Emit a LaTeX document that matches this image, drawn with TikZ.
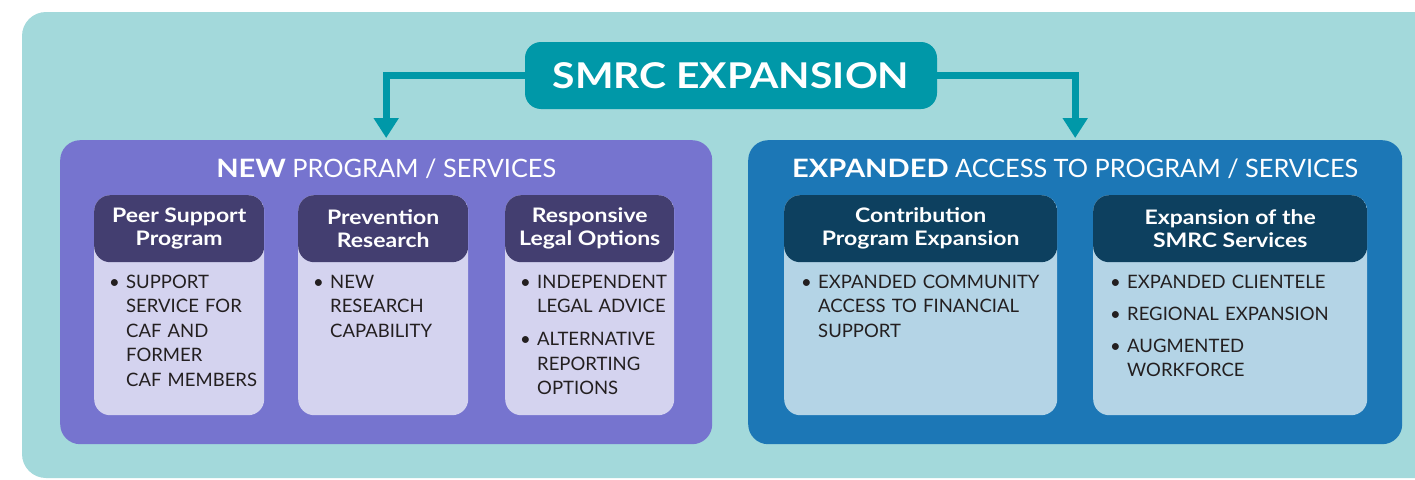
\documentclass[tikz,border=0pt]{standalone}
\usepackage{fontspec}
\setmainfont{Lato}[BoldFeatures={FakeStretch=1.15}]
\usetikzlibrary{arrows.meta,calc}

\definecolor{bgteal}{HTML}{A3D9DB}
\definecolor{smrcteal}{HTML}{0098A8}
\definecolor{newpurple}{HTML}{7674CF}
\definecolor{newhead}{HTML}{433E70}
\definecolor{newbody}{HTML}{D4D3EF}
\definecolor{expblue}{HTML}{1C77B6}
\definecolor{exphead}{HTML}{0D405F}
\definecolor{expbody}{HTML}{B4D4E6}
\definecolor{ink}{HTML}{231F20}

% one bullet with its lines stacked beside it
\newcommand{\bitem}[1]{\noindent\makebox[17pt][l]{\textbullet}\parbox[t]{\dimexpr\linewidth-17pt\relax}{\strut#1\strut}\par}
\newcommand{\gap}{\vspace{7.5pt}}

\tikzset{
  panel/.style={fill=#1, rounded corners=20pt, minimum height=304pt, inner sep=0pt},
  card/.style 2 args={fill=#2, rounded corners=16pt, minimum height=220pt, inner sep=0pt,
    path picture={\fill[#1] (path picture bounding box.north west) rectangle ([yshift=-67pt]path picture bounding box.north east);}},
  cardhead/.style={text=white, font=\bfseries\fontsize{20}{23.5}\selectfont, align=center},
  paneltitle/.style={text=white, font=\fontsize{25.3}{30}\selectfont},
  items/.style={text=ink, text width=#1, align=left, inner sep=0pt, anchor=north west,
    font=\fontsize{18.5}{24.5}\selectfont},
  flow/.style={smrcteal, line width=7pt, -{Triangle[width=24pt,length=20pt]}, shorten >=2pt},
}

\begin{document}
\begin{tikzpicture}[x=1pt,y=-1pt]
  \useasboundingbox (0,0) rectangle (1415,479);
  \fill[bgteal, rounded corners=24pt] (22,12) rectangle (1460,478);

  % top box
  \node[fill=smrcteal, rounded corners=16pt, minimum width=412pt, minimum height=67pt,
    text=white, font=\bfseries\fontsize{35.5}{40}\selectfont] (smrc) at (731,75.5) {SMRC EXPANSION};

  % the two panels
  \node[panel=newpurple, minimum width=652pt, anchor=north west] (newpanel) at (60,140) {};
  \node[panel=expblue, minimum width=654pt, anchor=north west] (exppanel) at (748,140) {};
  \node[paneltitle] (newtitle) at ([yshift=-29pt]newpanel.north) {\textbf{NEW} PROGRAM / SERVICES};
  \node[paneltitle] (exptitle) at ([yshift=-29pt]exppanel.north) {\textbf{EXPANDED} ACCESS TO PROGRAM / SERVICES};

  \draw[flow] (smrc.west) -| (newpanel.north);
  \draw[flow] (smrc.east) -| (exppanel.north);

  % new program cards
  \node[card={newhead}{newbody}, minimum width=170pt, anchor=north west] (peer) at (94,195) {};
  \node[card={newhead}{newbody}, minimum width=170pt, anchor=north west] (prev) at (298,195) {};
  \node[card={newhead}{newbody}, minimum width=169pt, anchor=north west] (legal) at (505,195) {};

  \node[cardhead] (peerhead) at ([yshift=-33.5pt]peer.north) {Peer Support\\Program};
  \node[cardhead] (prevhead) at ([yshift=-33.5pt]prev.north) {Prevention\\Research};
  \node[cardhead] (legalhead) at ([yshift=-33.5pt]legal.north) {Responsive\\Legal Options};

  \node[items=155pt] (peeritems) at (109,271) {\bitem{SUPPORT\\SERVICE FOR\\CAF AND\\FORMER\\CAF MEMBERS}};
  \node[items=155pt] (previtems) at (313,271) {\bitem{NEW\\RESEARCH\\CAPABILITY}};
  \node[items=155pt] (legalitems) at (520,271) {\bitem{INDEPENDENT\\LEGAL ADVICE}\gap\bitem{ALTERNATIVE\\REPORTING\\OPTIONS}};

  % expanded access cards
  \node[card={exphead}{expbody}, minimum width=273pt, anchor=north west] (contrib) at (784,195) {};
  \node[card={exphead}{expbody}, minimum width=274pt, anchor=north west] (services) at (1093,195) {};

  \node[cardhead] (contribhead) at ([yshift=-33.5pt]contrib.north) {Contribution\\Program Expansion};
  \node[cardhead] (serviceshead) at ([yshift=-33.5pt]services.north) {Expansion of the\\SMRC Services};

  \node[items=255pt] (contribitems) at (801,271) {\bitem{EXPANDED COMMUNITY\\ACCESS TO FINANCIAL\\SUPPORT}};
  \node[items=255pt] (servicesitems) at (1110,271) {\bitem{EXPANDED CLIENTELE}\gap\bitem{REGIONAL EXPANSION}\gap\bitem{AUGMENTED\\WORKFORCE}};
\end{tikzpicture}
\end{document}
